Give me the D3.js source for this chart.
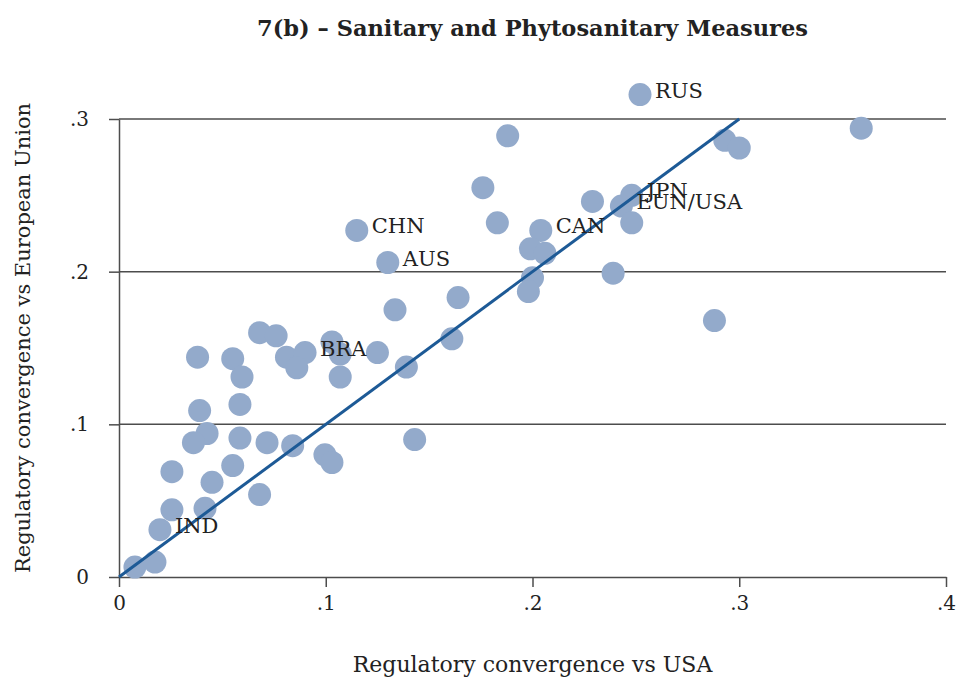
<!DOCTYPE html>
<meta charset="utf-8">
<script src="https://d3js.org/d3.v7.min.js"></script>
<style>
  body { margin: 0; background: #fff; }
  text { font-family: "DejaVu Serif", serif; fill: #222; }
</style>
<body>
<div id="my_dataviz"></div>
<script>

// regulatory convergence, SPS measures
var vsUSA = [0.252, 0.188, 0.359, 0.293, 0.300, 0.176, 0.229, 0.248, 0.243, 0.248,
             0.115, 0.183, 0.204, 0.199, 0.206, 0.130, 0.200, 0.239, 0.198, 0.164,
             0.1335, 0.288, 0.068, 0.076, 0.103, 0.161, 0.038, 0.055, 0.081, 0.090,
             0.086, 0.107, 0.107, 0.125, 0.139, 0.0595, 0.039, 0.0585, 0.0426, 0.036,
             0.0585, 0.0716, 0.084, 0.143, 0.0996, 0.103, 0.0256, 0.055, 0.045, 0.068,
             0.0256, 0.0416, 0.0198, 0.0077, 0.0174]
var vsEU  = [0.316, 0.289, 0.294, 0.286, 0.281, 0.255, 0.246, 0.250, 0.243, 0.232,
             0.227, 0.232, 0.227, 0.215, 0.212, 0.206, 0.196, 0.199, 0.187, 0.183,
             0.175, 0.168, 0.160, 0.158, 0.154, 0.156, 0.144, 0.143, 0.144, 0.147,
             0.137, 0.146, 0.131, 0.147, 0.1375, 0.131, 0.109, 0.113, 0.094, 0.088,
             0.091, 0.088, 0.086, 0.090, 0.080, 0.075, 0.069, 0.073, 0.062, 0.054,
             0.044, 0.045, 0.031, 0.0065, 0.0098]
var labels = ["RUS", "", "", "", "", "", "", "JPN", "EUN/USA", "",
              "CHN", "", "CAN", "", "", "AUS", "", "", "", "",
              "", "", "", "", "", "", "", "", "", "BRA",
              "", "", "", "", "", "", "", "", "", "",
              "", "", "", "", "", "", "", "", "", "",
              "", "", "IND", "", ""]
var xTicks = [0, 0.1, 0.2, 0.3, 0.4]
var yTicks = [0, 0.1, 0.2, 0.3]
var fitLine = [[0, 0], [0.3, 0.3]]

var width = 957, height = 682
var margin = {left: 119, right: 11, top: 119, bottom: 105}

var svg = d3.select("#my_dataviz")
  .append("svg")
    .attr("width", width)
    .attr("height", height)

var x = d3.scaleLinear().domain([0, 0.4]).range([margin.left, width - margin.right])
var y = d3.scaleLinear().domain([0, 0.3]).range([height - margin.bottom, margin.top])

var fmt = function(d) { return d == 0 ? "0" : d3.format(".1f")(d).replace(/^0/, "") }

// grid lines
svg.append("g")
  .selectAll("line")
  .data(yTicks.slice(1))
  .enter()
  .append("line")
    .attr("x1", x(0)).attr("x2", x(0.4))
    .attr("y1", function(d) { return y(d) }).attr("y2", function(d) { return y(d) })
    .attr("stroke", "#4d4d4d")
    .attr("stroke-width", 1.5)

// x axis
var xAxis = svg.append("g")
  .attr("transform", "translate(0," + y(0) + ")")
  .call(d3.axisBottom(x).tickValues(xTicks).tickFormat(fmt).tickSize(10).tickPadding(9).tickSizeOuter(0))
xAxis.select(".domain").attr("stroke", "#4d4d4d").attr("stroke-width", 1.5)
xAxis.selectAll(".tick line").attr("stroke", "#4d4d4d").attr("stroke-width", 1.5)
xAxis.selectAll("text").style("font-family", "'DejaVu Serif', serif").style("font-size", "20px").attr("fill", "#333")

// y axis
var yAxis = svg.append("g")
  .attr("transform", "translate(" + x(0) + ",0)")
  .call(d3.axisLeft(y).tickValues(yTicks).tickFormat(fmt).tickSize(10).tickPadding(20).tickSizeOuter(0))
yAxis.select(".domain").attr("stroke", "#4d4d4d").attr("stroke-width", 1.5)
yAxis.selectAll(".tick line").attr("stroke", "#4d4d4d").attr("stroke-width", 1.5)
yAxis.selectAll("text").style("font-family", "'DejaVu Serif', serif").style("font-size", "20px").attr("fill", "#333")

// points
var data = vsUSA.map(function(d, i) { return {x: d, y: vsEU[i], label: labels[i]} })

svg.append("g")
  .selectAll("circle")
  .data(data)
  .enter()
  .append("circle")
    .attr("cx", function(d) { return x(d.x) })
    .attr("cy", function(d) { return y(d.y) })
    .attr("r", 11.5)
    .attr("fill", "#93aacb")

// 45 degree line
svg.append("path")
  .datum(fitLine)
  .attr("d", d3.line().x(function(d) { return x(d[0]) }).y(function(d) { return y(d[1]) }))
  .attr("stroke", "#1d5a96")
  .attr("stroke-width", 3)
  .attr("fill", "none")

// country labels
svg.append("g")
  .selectAll("text")
  .data(data.filter(function(d) { return d.label != "" }))
  .enter()
  .append("text")
    .attr("x", function(d) { return x(d.x) + 15 })
    .attr("y", function(d) { return y(d.y) + 3 })
    .style("font-size", "21px")
    .attr("fill", "#222")
    .text(function(d) { return d.label })

// titles
svg.append("text")
  .attr("x", (x(0) + x(0.4)) / 2)
  .attr("y", 36)
  .attr("text-anchor", "middle")
  .style("font-weight", "bold")
  .style("font-size", "22.5px")
  .text("7(b) – Sanitary and Phytosanitary Measures")

svg.append("text")
  .attr("x", (x(0) + x(0.4)) / 2)
  .attr("y", 672)
  .attr("text-anchor", "middle")
  .style("font-size", "22px")
  .attr("fill", "#333")
  .text("Regulatory convergence vs USA")

svg.append("text")
  .attr("transform", "translate(30," + 338 + ") rotate(-90)")
  .attr("text-anchor", "middle")
  .style("font-size", "21px")
  .attr("fill", "#333")
  .text("Regulatory convergence vs European Union")

</script>
</body>
